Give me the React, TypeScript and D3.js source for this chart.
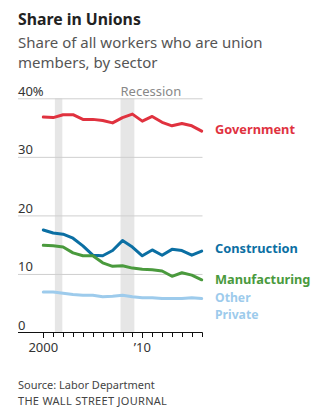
import React from "react";
import * as d3 from "d3";

const years = d3.range(2000, 2017);
const government = [36.8, 36.7, 37.2, 37.2, 36.4, 36.4, 36.2, 35.8, 36.7, 37.3, 36.1, 36.9, 35.9, 35.3, 35.7, 35.3, 34.4];
const construction = [17.5, 17.0, 16.8, 16.1, 14.8, 13.2, 13.1, 14.0, 15.7, 14.6, 13.1, 14.1, 13.2, 14.2, 14.0, 13.2, 13.9];
const manufacturing = [14.9, 14.8, 14.6, 13.6, 13.1, 13.1, 11.9, 11.3, 11.4, 11.0, 10.8, 10.7, 10.5, 9.6, 10.2, 9.8, 9.0];
const otherPrivate = [6.9, 6.9, 6.7, 6.5, 6.35, 6.35, 6.1, 6.2, 6.35, 6.1, 5.95, 5.95, 5.8, 5.8, 5.8, 5.95, 5.8];
const recessions = [[2001.17, 2001.92], [2007.8, 2009.2]];
const yTicks = [0, 10, 20, 30, 40];
const xTickLabels = [{ year: 2000, label: "2000" }, { year: 2010, label: "\u201910" }];

const seriesList = [
  { name: "Government", values: government, color: "#e0323f", labels: ["Government"], labelY: 130, size: 12.8 },
  { name: "Construction", values: construction, color: "#0b6fa3", labels: ["Construction"], labelY: 249, size: 12.8 },
  { name: "Manufacturing", values: manufacturing, color: "#4a9a3d", labels: ["Manufacturing"], labelY: 279.5, size: 12.8 },
  { name: "Other Private", values: otherPrivate, color: "#9dcbec", labels: ["Other", "Private"], labelY: 297.5, size: 12.2 },
];

const FONT = "'Noto Sans', 'Open Sans', sans-serif";

export default function App() {
  const x = d3.scaleLinear().domain([2000, 2016]).range([43.3, 201.7]);
  const y = d3.scaleLinear().domain([0, 40]).range([332.5, 98.3]);
  const line = d3.line<number>().x((_, i) => x(years[i])).y((d) => y(d)).curve(d3.curveLinear);
  const left = 18;
  const right = 202.5;

  return (
    <svg width={331} height={420} style={{ position: "absolute", left: 0, top: 0 }} fontFamily={FONT}>
      <rect width={331} height={420} fill="#fff" />
      <text x={left} y={24.5} fontSize={15.8} fontWeight={700} fill="#222">Share in Unions</text>
      <text x={left} y={47.5} fontSize={15} fill="#555">Share of all workers who are union</text>
      <text x={left} y={67.5} fontSize={15} fill="#555">members, by sector</text>

      {recessions.map(([a, b], i) => (
        <rect key={i} x={x(a)} y={y(40)} width={x(b) - x(a)} height={y(0) - y(40)} fill="#e6e6e6" />
      ))}
      <text x={x(recessions[1][0])} y={96} fontSize={13} fill="#888">Recession</text>

      {yTicks.map((t) => (
        <g key={t}>
          {t > 0 && <line x1={left} x2={right} y1={y(t) + 0.5} y2={y(t) + 0.5} stroke="#cfcfcf" strokeWidth={1} />}
          <text x={left} y={y(t) - 2.5} fontSize={13} fill="#333">{t === 40 ? "40%" : t}</text>
        </g>
      ))}

      {seriesList.map((s) => (
        <path key={s.name} d={line(s.values) || ""} fill="none" stroke={s.color} strokeWidth={3} strokeLinejoin="round" strokeLinecap="round" />
      ))}

      <line x1={left} x2={right} y1={332.5} y2={332.5} stroke="#111" strokeWidth={1} />
      {years.map((yr) => (
        <line key={yr} x1={Math.round(x(yr)) + 0.5} x2={Math.round(x(yr)) + 0.5} y1={332.5} y2={yr % 10 === 0 ? 338 : 337} stroke="#111" strokeWidth={1} />
      ))}
      {xTickLabels.map((t) => (
        <text key={t.year} x={x(t.year)} y={351.5} fontSize={13} fill="#333" textAnchor="middle">{t.label}</text>
      ))}

      {seriesList.map((s) =>
        s.labels.map((l, i) => (
          <text key={s.name + l} x={215} y={s.labelY + i * 16.9} dy="0.35em" fontSize={s.size} fontWeight={700} fill={s.color}>{l}</text>
        ))
      )}

      <text x={left} y={389} fontSize={11} fill="#444">Source: Labor Department</text>
      <text x={left} y={405} fontSize={11} fill="#444" letterSpacing={0.3}>THE WALL STREET JOURNAL</text>
    </svg>
  );
}
